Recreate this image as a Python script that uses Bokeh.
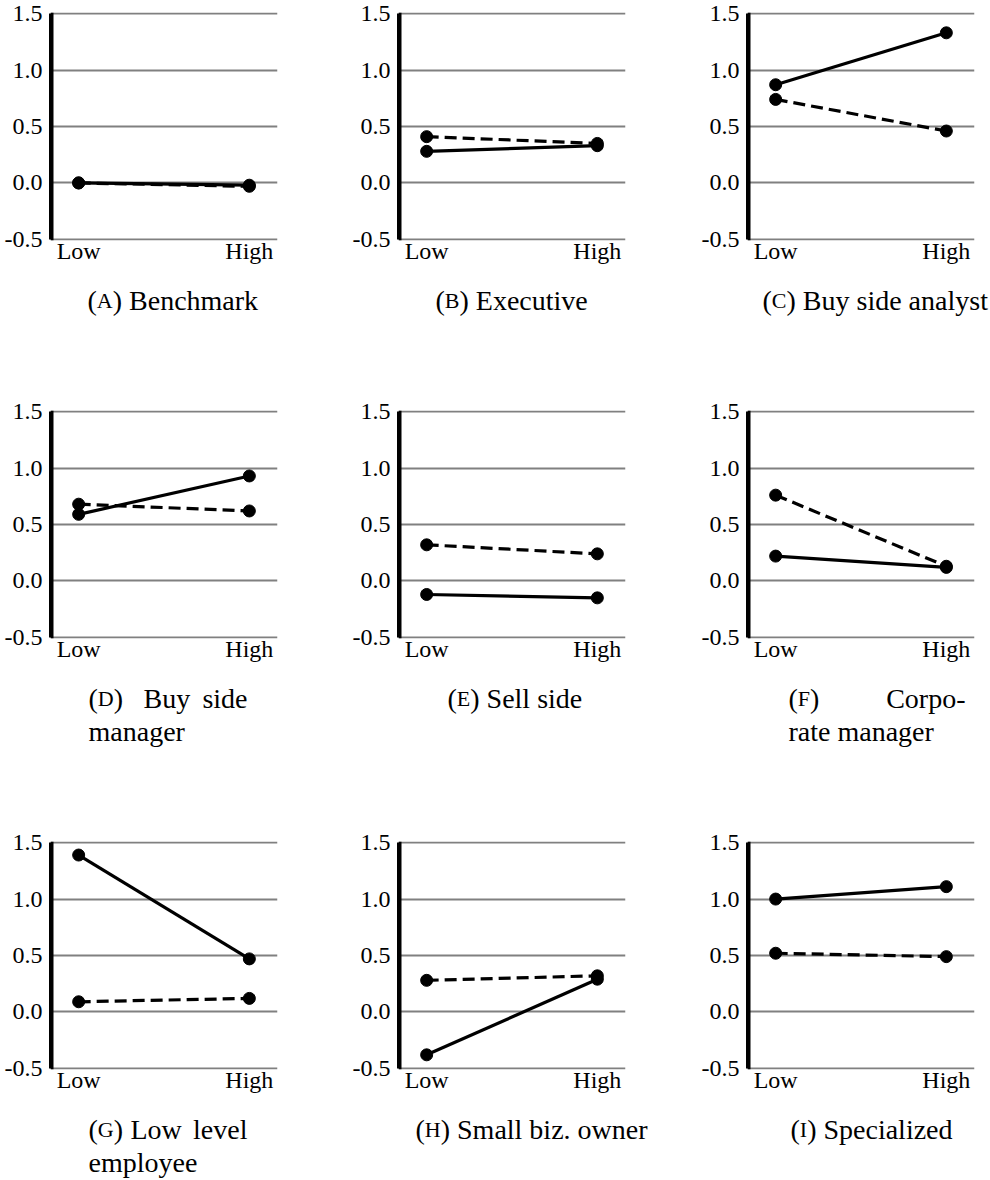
from bokeh.plotting import figure
from bokeh.layouts import column, row
from bokeh.models import PrintfTickFormatter, FixedTicker, Range1d, Span
from bokeh.core.properties import value
from bokeh.embed import file_html
from bokeh.resources import INLINE

# ---------------- data ----------------
levels = ["Low", "High"]
panel_letters = ["A", "B", "C", "D", "E", "F", "G", "H", "I"]
panel_names = ["Benchmark", "Executive", "Buy side analyst",
               "Buy side manager", "Sell side", "Corporate manager",
               "Low level employee", "Small biz. owner", "Specialized"]
solid_low = [0.00, 0.28, 0.87, 0.59, -0.12, 0.22, 1.39, -0.38, 1.00]
solid_high = [-0.02, 0.33, 1.33, 0.93, -0.15, 0.12, 0.47, 0.29, 1.11]
dashed_low = [0.00, 0.41, 0.74, 0.68, 0.32, 0.76, 0.09, 0.28, 0.52]
dashed_high = [-0.03, 0.35, 0.46, 0.62, 0.24, 0.13, 0.12, 0.32, 0.49]
y_ticks = [-0.5, 0.0, 0.5, 1.0, 1.5]

# ---------------- layout / style ----------------
FONT = "Liberation Serif"
TICK_FS = "24px"
CAP_FS = 28
SC_FS = 22
FRAME_W, FRAME_H = 227, 228
X0, X1 = -0.165, 1.165
Y0, Y1 = -0.51, 1.51
col_left = [50, 50, 50]
col_right = [71, 72, 16]
TOP, PLOT_BOTTOM = 12, 30
cap_heights = [128, 161, 81]
letter_em = {"A": .722, "B": .667, "C": .667, "D": .722, "E": .611,
             "F": .556, "G": .722, "H": .722, "I": .333}
# caption layout: px from the plot frame's left edge
cap_left = {"A": 37, "B": 37, "C": 15, "E": 49, "H": 17, "I": 43}
cap_special = {
    "D": (38, [[("Buy", 93, "left"), ("side", 197, "right")], [("manager", 38, "left")]]),
    "F": (41, [[("Corpo-", 218, "right")], [("rate manager", 41, "left")]]),
    "G": (38, [[("Low", 80, "left"), ("level", 197, "right")], [("employee", 38, "left")]]),
}
CAP_BASE = 30      # baseline of first caption line, px below top of caption strip
CAP_DY = 33
AXIS_W = 3


def caption_fig(letter, name, c, h):
    w = col_left[c] + FRAME_W + col_right[c]
    cf = figure(width=w, height=h, x_range=Range1d(0, w), y_range=Range1d(h, 0),
                output_backend="svg", toolbar_location=None,
                x_axis_type=None, y_axis_type=None, min_border=0)
    cf.outline_line_color = None
    cf.grid.visible = False
    cf.background_fill_color = "white"
    cf.border_fill_color = "white"
    off = col_left[c]
    pieces = []  # (text, x, y, align, size)
    if letter in cap_special:
        left, lines = cap_special[letter]
    else:
        left, lines = cap_left[letter], None
    paren_w = 0.333 * CAP_FS
    lw = letter_em[letter] * SC_FS
    pieces.append(("(", off + left, CAP_BASE, "left", CAP_FS))
    pieces.append((letter, off + left + paren_w, CAP_BASE, "left", SC_FS))
    pieces.append((")", off + left + paren_w + lw, CAP_BASE, "left", CAP_FS))
    if lines is None:
        pieces.append((name, off + left + 2 * paren_w + lw + 7, CAP_BASE, "left", CAP_FS))
    else:
        for li, line in enumerate(lines):
            for text, px, align in line:
                pieces.append((text, off + px, CAP_BASE + li * CAP_DY, align, CAP_FS))
    for text, x, y, align, size in pieces:
        cf.text(x=[x], y=[y], text=[text], text_font=value(FONT),
                text_font_size=value(f"{size}px"), text_color="black",
                text_align=align, text_baseline="alphabetic")
    return cf


x_pos = list(range(len(levels)))
rows = []
for r in range(3):
    plots, caps = [], []
    for c in range(3):
        i = r * 3 + c
        letter = panel_letters[i]
        w = col_left[c] + FRAME_W + col_right[c]
        h = TOP + FRAME_H + PLOT_BOTTOM
        p = figure(width=w, height=h, x_range=Range1d(X0, X1), y_range=Range1d(Y0, Y1),
                   output_backend="svg", toolbar_location=None,
                   min_border_left=col_left[c], min_border_right=col_right[c],
                   min_border_top=TOP, min_border_bottom=PLOT_BOTTOM)
        p.outline_line_color = None
        p.background_fill_color = "white"
        p.border_fill_color = "white"
        p.xgrid.visible = False
        p.ygrid.ticker = FixedTicker(ticks=y_ticks)
        p.ygrid.grid_line_color = "#808080"
        p.ygrid.grid_line_width = 2

        p.yaxis.ticker = FixedTicker(ticks=y_ticks)
        p.yaxis.bounds = (y_ticks[0], y_ticks[-1])
        p.yaxis.formatter = PrintfTickFormatter(format="%.1f")
        p.yaxis.axis_line_color = "black"
        p.yaxis.axis_line_width = AXIS_W
        p.yaxis.major_tick_line_color = None
        p.yaxis.minor_tick_line_color = None
        p.yaxis.major_label_standoff = 2
        p.yaxis.major_label_text_font = FONT
        p.yaxis.major_label_text_font_size = TICK_FS
        p.yaxis.major_label_text_color = "black"

        # vertical axis rule along the frame's left edge
        p.add_layout(Span(location=X0 + (AXIS_W / 2) / FRAME_W * (X1 - X0),
                          dimension="height", line_color="black", line_width=AXIS_W))

        p.xaxis.ticker = FixedTicker(ticks=x_pos)
        p.xaxis.major_label_overrides = {k: v for k, v in zip(x_pos, levels)}
        p.xaxis.axis_line_color = None
        p.xaxis.major_tick_line_color = None
        p.xaxis.minor_tick_line_color = None
        p.xaxis.major_label_standoff = -9
        p.xaxis.major_label_text_font = FONT
        p.xaxis.major_label_text_font_size = TICK_FS
        p.xaxis.major_label_text_color = "black"

        dvals = [dashed_low[i], dashed_high[i]]
        svals = [solid_low[i], solid_high[i]]
        p.line(x_pos, dvals, line_color="black", line_width=3.2, line_dash="12 6")
        p.scatter(x_pos, dvals, size=12, color="black")
        p.line(x_pos, svals, line_color="black", line_width=3.2)
        p.scatter(x_pos, svals, size=12, color="black")
        plots.append(p)
        caps.append(caption_fig(letter, panel_names[i], c, cap_heights[r]))
    rows.append(row(*plots))
    rows.append(row(*caps))

layout = column(*rows)
open("out.html", "w").write(file_html(layout, INLINE))
